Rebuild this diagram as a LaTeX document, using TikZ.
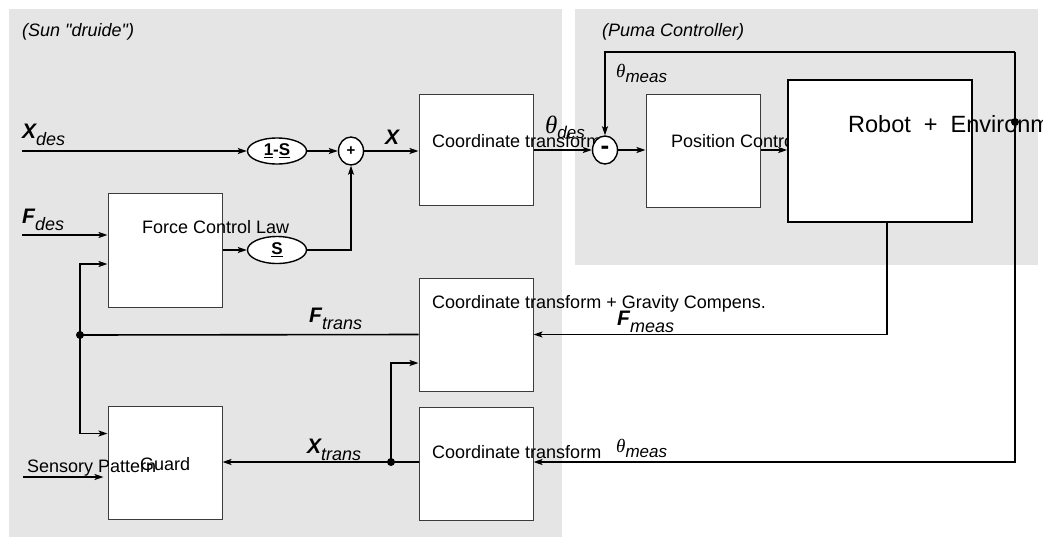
\documentclass[tikz,border=0pt]{standalone}
\usepackage{fontspec}
\setmainfont{Liberation Sans}
\newfontfamily\greekfont{Liberation Serif}
\usepackage{tikz}
\usetikzlibrary{arrows.meta,shapes,positioning,calc}
\definecolor{panelgray}{RGB}{229,229,229}
\definecolor{blockedge}{RGB}{60,60,60}
\tikzstyle{arrow} = [line width=1.6pt,-{Stealth[length=9pt,width=6pt,inset=2pt]}]
\tikzstyle{signal} = [line width=1.6pt]
\tikzstyle{block} = [rectangle, draw=blockedge, fill=white, line width=1pt, minimum width=114pt, minimum height=113pt, inner sep=0pt]
\tikzstyle{gain} = [ellipse, draw, fill=white, line width=1.4pt, minimum width=59pt, minimum height=26pt, inner sep=0pt, font=\fontsize{17}{19}\selectfont\bfseries]
\tikzstyle{summer} = [ellipse, draw, fill=white, line width=1.4pt, minimum width=25pt, minimum height=28pt, inner sep=0pt, font=\fontsize{15}{17}\selectfont\bfseries]
\tikzstyle{txt} = [anchor=base west, inner sep=0pt, font=\fontsize{18}{20}\selectfont]
\tikzstyle{junction} = [circle, fill, inner sep=0pt, minimum size=8pt]
\newcommand{\sig}[2]{{\fontsize{21}{24}\selectfont\bfseries\itshape #1}\raisebox{-7pt}{\fontsize{18}{20}\selectfont\itshape #2}}
\newcommand{\thetasig}[2]{{\fontsize{#1}{#1}\selectfont\greekfont\itshape θ}\raisebox{-5pt}{\fontsize{17}{19}\selectfont\itshape #2}}

\begin{document}
\begin{tikzpicture}[x=1pt,y=-1pt]
\useasboundingbox (0,0) rectangle (1043,541);
% Host panels
\fill[panelgray] (9,9) rectangle (562,537);
\fill[panelgray] (575,9) rectangle (1038,265);
\node (sunTag) [txt, font=\fontsize{18}{20}\selectfont\itshape] at (22,36) {(Sun \textquotedbl druide\textquotedbl)};
\node (pumaTag) [txt, font=\fontsize{18}{20}\selectfont\itshape] at (602,36) {(Puma Controller)};

% Blocks
\node (ctTop) [block, minimum height=111pt] at (476,149.5) {};
\node (ctTopTxt) [txt] at (432,147) {Coordinate transform};
\node (forceLaw) [block, minimum height=114pt] at (165,250) {};
\node (forceLawTxt) [txt] at (142,233) {Force Control Law};
\node (ctGrav) [block] at (476,334.5) {};
\node (ctGravTxt) [txt] at (432,308) {Coordinate transform + Gravity Compens.};
\node (ctBot) [block, below=15pt of ctGrav] {};
\node (ctBotTxt) [txt] at (432,458) {Coordinate transform};
\node (guard) [block] at (165,462.5) {};
\node (sensTxt) [txt] at (27,472) {Sensory Pattern};
\node (guardTxt) [txt] at (140,470) {Guard};
\node (posCtrl) [block] at (703,150.5) {};
\node (posCtrlTxt) [txt] at (671,147) {Position Control};
\node (robot) [block, draw=black, line width=1.6pt, minimum width=184pt, minimum height=142pt] at (880,151) {};
\node (robotTxt) [txt, font=\fontsize{23.5}{26}\selectfont] at (848,132) {Robot\ \ +\ \ Environment};

% Gains and summing points
\node (gainXS) [gain] at (277,151) {\underline{1}-\underline{S}};
\node (gainFS) [gain, minimum height=27pt] at (277,250) {\underline{S}};
\node (sumX) [summer] at (351,151) {+};
\node (sumTheta) [summer, font=\fontsize{26}{26}\selectfont\bfseries] at (605,150) {\raisebox{-3pt}{-}};

% Free ends and branch points
\coordinate (xdesIn) at (22,151);
\coordinate (fdesIn) at (22,235);
\coordinate (sensIn) at (23,477);
\coordinate (fbTop) at (1015,52);
\coordinate (fbBot) at (1015,462);
\coordinate (jF) at (80,335);
\coordinate (jX) at (391,462);

% Arrows
\draw[arrow] (xdesIn) -- (gainXS);
\draw[arrow] (gainXS) -- (sumX);
\draw[arrow] (sumX) -- (ctTop.west |- sumX);
\draw[arrow] (fdesIn) -- (forceLaw.west |- fdesIn);
\draw[arrow] (forceLaw.east |- gainFS) -- (gainFS);
\draw[arrow] (gainFS) -| (sumX);
\draw[arrow] (ctTop.east |- sumTheta) -- (sumTheta);
\draw[arrow] (sumTheta) -- (posCtrl.west |- sumTheta);
\draw[arrow] (posCtrl.east |- sumTheta) -- (robot.west |- sumTheta);
\draw[arrow] (fbTop) -| (sumTheta);
\draw[arrow] (fbTop) -- (fbBot) -- (ctBot.east |- fbBot);
\draw[arrow] ([xshift=7pt]robot.south) |- (ctGrav.east);
\draw[signal] (ctGrav.west) -- (jF);
\draw[arrow] (jF) |- ($(forceLaw.west)+(0,14)$);
\draw[arrow] (jF) |- ($(guard.west)+(0,-29)$);
\draw[arrow] (ctBot.west |- jX) -- (guard.east |- jX);
\draw[arrow] (jX) |- ($(ctGrav.west)+(0,28.5)$);
\draw[arrow, shorten >=4pt] (sensIn) -- (guard.west |- sensIn);
\node (dotF) [junction] at (jF) {};
\node (dotX) [junction] at (jX) {};
\node (dotTheta) [junction] at (1015,122) {};

% Signal labels
\node (xdesLbl) [txt] at (22,138) {\sig{X}{des}};
\node (xLbl) [txt] at (385,144) {{\fontsize{21}{24}\selectfont\bfseries\itshape X}};
\node (fdesLbl) [txt] at (22,223) {\sig{F}{des}};
\node (ftransLbl) [txt] at (309,322) {\sig{F}{trans}};
\node (fmeasLbl) [txt] at (617,325) {\sig{F}{meas}};
\node (xtransLbl) [txt] at (307,453) {\sig{X}{trans}};
\node (thDesLbl) [txt] at (545,133) {\thetasig{25}{des}};
\node (thMeasTop) [txt] at (616,77) {\thetasig{19}{meas}};
\node (thMeasBot) [txt] at (616,452) {\thetasig{19}{meas}};
\end{tikzpicture}
\end{document}
